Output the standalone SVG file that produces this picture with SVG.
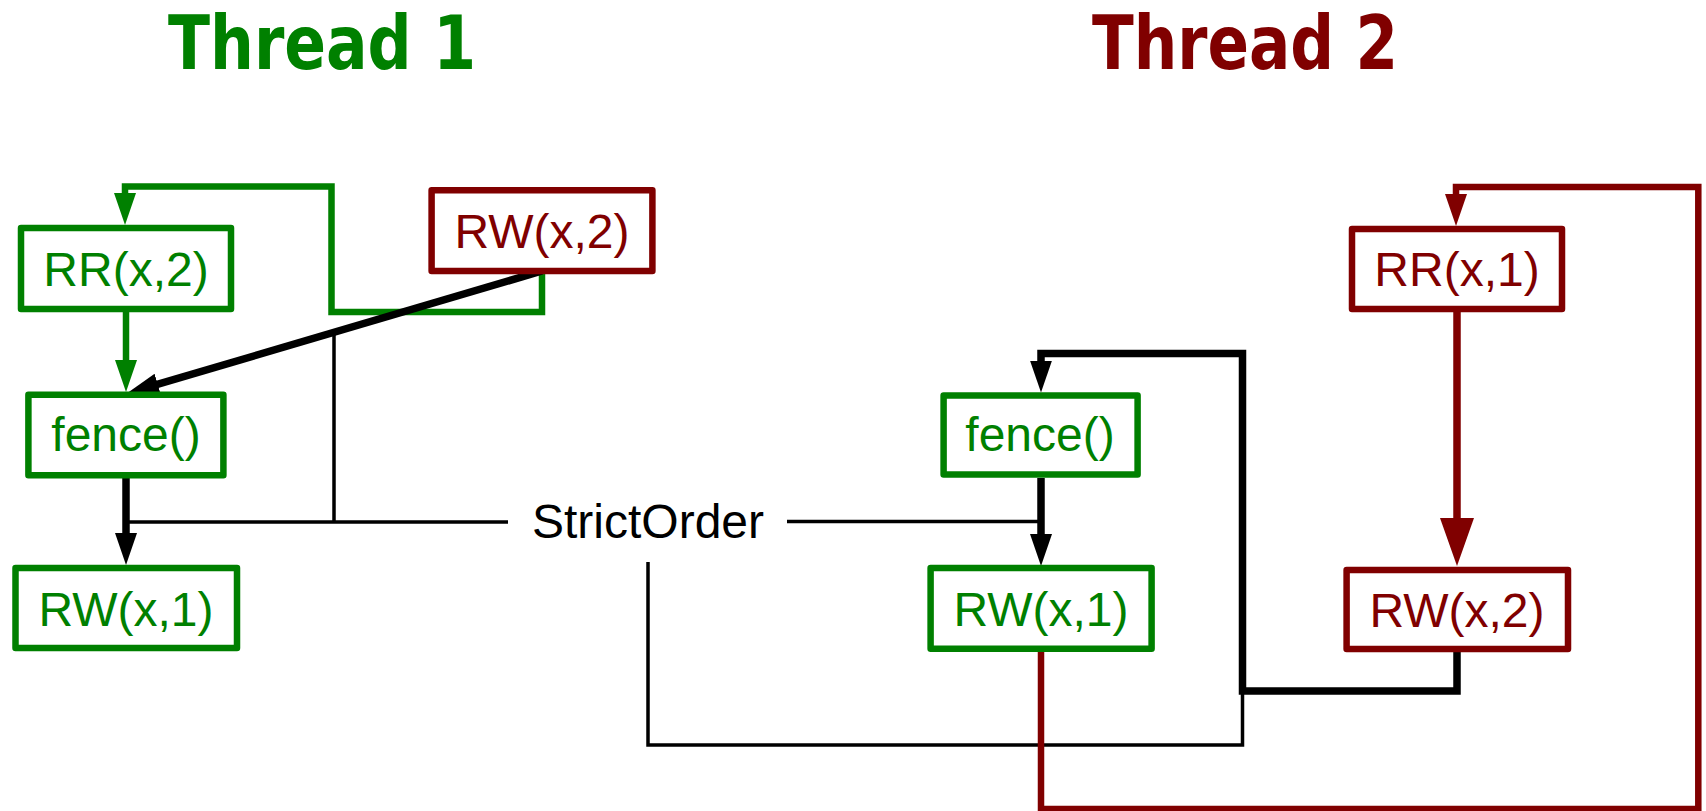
<svg xmlns="http://www.w3.org/2000/svg" width="1706" height="811" viewBox="0 0 1706 811">
<style>
.title{font-family:"DejaVu Sans Condensed","DejaVu Sans",sans-serif;font-weight:bold;font-stretch:condensed;font-size:74px}
.lbl{font-family:"Liberation Sans",Arial,sans-serif;font-size:48px;text-anchor:middle}
.g{fill:#008000}
.r{fill:#800000}
.box{fill:#ffffff;stroke-width:6.5;stroke-linejoin:round}
.gb{stroke:#008000}
.rb{stroke:#800000}
.e{fill:none;stroke-linejoin:miter}
.thin{fill:none;stroke:#000;stroke-width:3.5}
</style>
<defs>
<marker id="ag" markerUnits="userSpaceOnUse" markerWidth="32" markerHeight="22" refX="12" refY="11" orient="auto"><path d="M0,0 L32,11 L0,22 z" fill="#008000"/></marker>
<marker id="ak" markerUnits="userSpaceOnUse" markerWidth="32" markerHeight="22" refX="12" refY="11" orient="auto"><path d="M0,0 L32,11 L0,22 z" fill="#000"/></marker>
<marker id="ar" markerUnits="userSpaceOnUse" markerWidth="32" markerHeight="22" refX="12" refY="11" orient="auto"><path d="M0,0 L32,11 L0,22 z" fill="#800000"/></marker>
<marker id="arb" markerUnits="userSpaceOnUse" markerWidth="48" markerHeight="34" refX="18" refY="17" orient="auto"><path d="M0,0 L48,17 L0,34 z" fill="#800000"/></marker>
</defs>
<rect x="0" y="0" width="1706" height="811" fill="#ffffff"/>
<text class="title g" x="168" y="69" textLength="308" lengthAdjust="spacingAndGlyphs">Thread 1</text>
<text class="title r" x="1092" y="69" textLength="306" lengthAdjust="spacingAndGlyphs">Thread 2</text>
<g id="connectors">
<path class="e" d="M542,274 V312 H331.5 V186.5 H125 V205" stroke="#008000" stroke-width="6.5" marker-end="url(#ag)"/>
<path class="e" d="M126,312 V372" stroke="#008000" stroke-width="6.5" marker-end="url(#ag)"/>
<path class="e" d="M542,271 L146.2,387.7" stroke="#000" stroke-width="7.5" marker-end="url(#ak)"/>
<path class="e" d="M126,478 V545" stroke="#000" stroke-width="7.5" marker-end="url(#ak)"/>
<path class="thin" d="M126,522 H508 M334,332 V522 M787,521.5 H1041 M648,562 V745 H1242.5 V691"/>
<path class="e" d="M1041,478 V546" stroke="#000" stroke-width="7.5" marker-end="url(#ak)"/>
<path class="e" d="M1457,652 V691 H1242.5 V353.5 H1041 V372.6" stroke="#000" stroke-width="7.5" marker-end="url(#ak)"/>
<path class="e" d="M1457,311.6 V536" stroke="#800000" stroke-width="7.5" marker-end="url(#arb)"/>
<path class="e" d="M1041,652 V809 H1698.3 V187 H1456 V206" stroke="#800000" stroke-width="6.5" marker-end="url(#ar)"/>
</g>
<g id="t1_rr">
<rect class="box gb" x="21" y="228" width="210" height="81"/>
<text class="lbl g" x="126" y="285.5">RR(x,2)</text>
</g>
<g id="t1_fence">
<rect class="box gb" x="28.4" y="394.7" width="195" height="80.6"/>
<text class="lbl g" x="126" y="450.5">fence()</text>
</g>
<g id="t1_rw">
<rect class="box gb" x="15.5" y="568" width="221.5" height="80"/>
<text class="lbl g" x="126" y="625.5">RW(x,1)</text>
</g>
<g id="t2_rw_top">
<rect class="box rb" x="431.6" y="190.3" width="220.8" height="80.7"/>
<text class="lbl r" x="542" y="247.5">RW(x,2)</text>
</g>
<g id="strictorder">
<text class="lbl" x="648" y="537.5" fill="#000">StrictOrder</text>
</g>
<g id="t1_fence_right">
<rect class="box gb" x="943.6" y="395.6" width="194" height="79"/>
<text class="lbl g" x="1040" y="450.5">fence()</text>
</g>
<g id="t1_rw_right">
<rect class="box gb" x="930.6" y="568" width="221" height="80.7"/>
<text class="lbl g" x="1041" y="625.5">RW(x,1)</text>
</g>
<g id="t2_rr">
<rect class="box rb" x="1352" y="229" width="210" height="80"/>
<text class="lbl r" x="1457" y="285.5">RR(x,1)</text>
</g>
<g id="t2_rw">
<rect class="box rb" x="1346.6" y="570" width="221.4" height="79"/>
<text class="lbl r" x="1457" y="626.5">RW(x,2)</text>
</g>
</svg>
